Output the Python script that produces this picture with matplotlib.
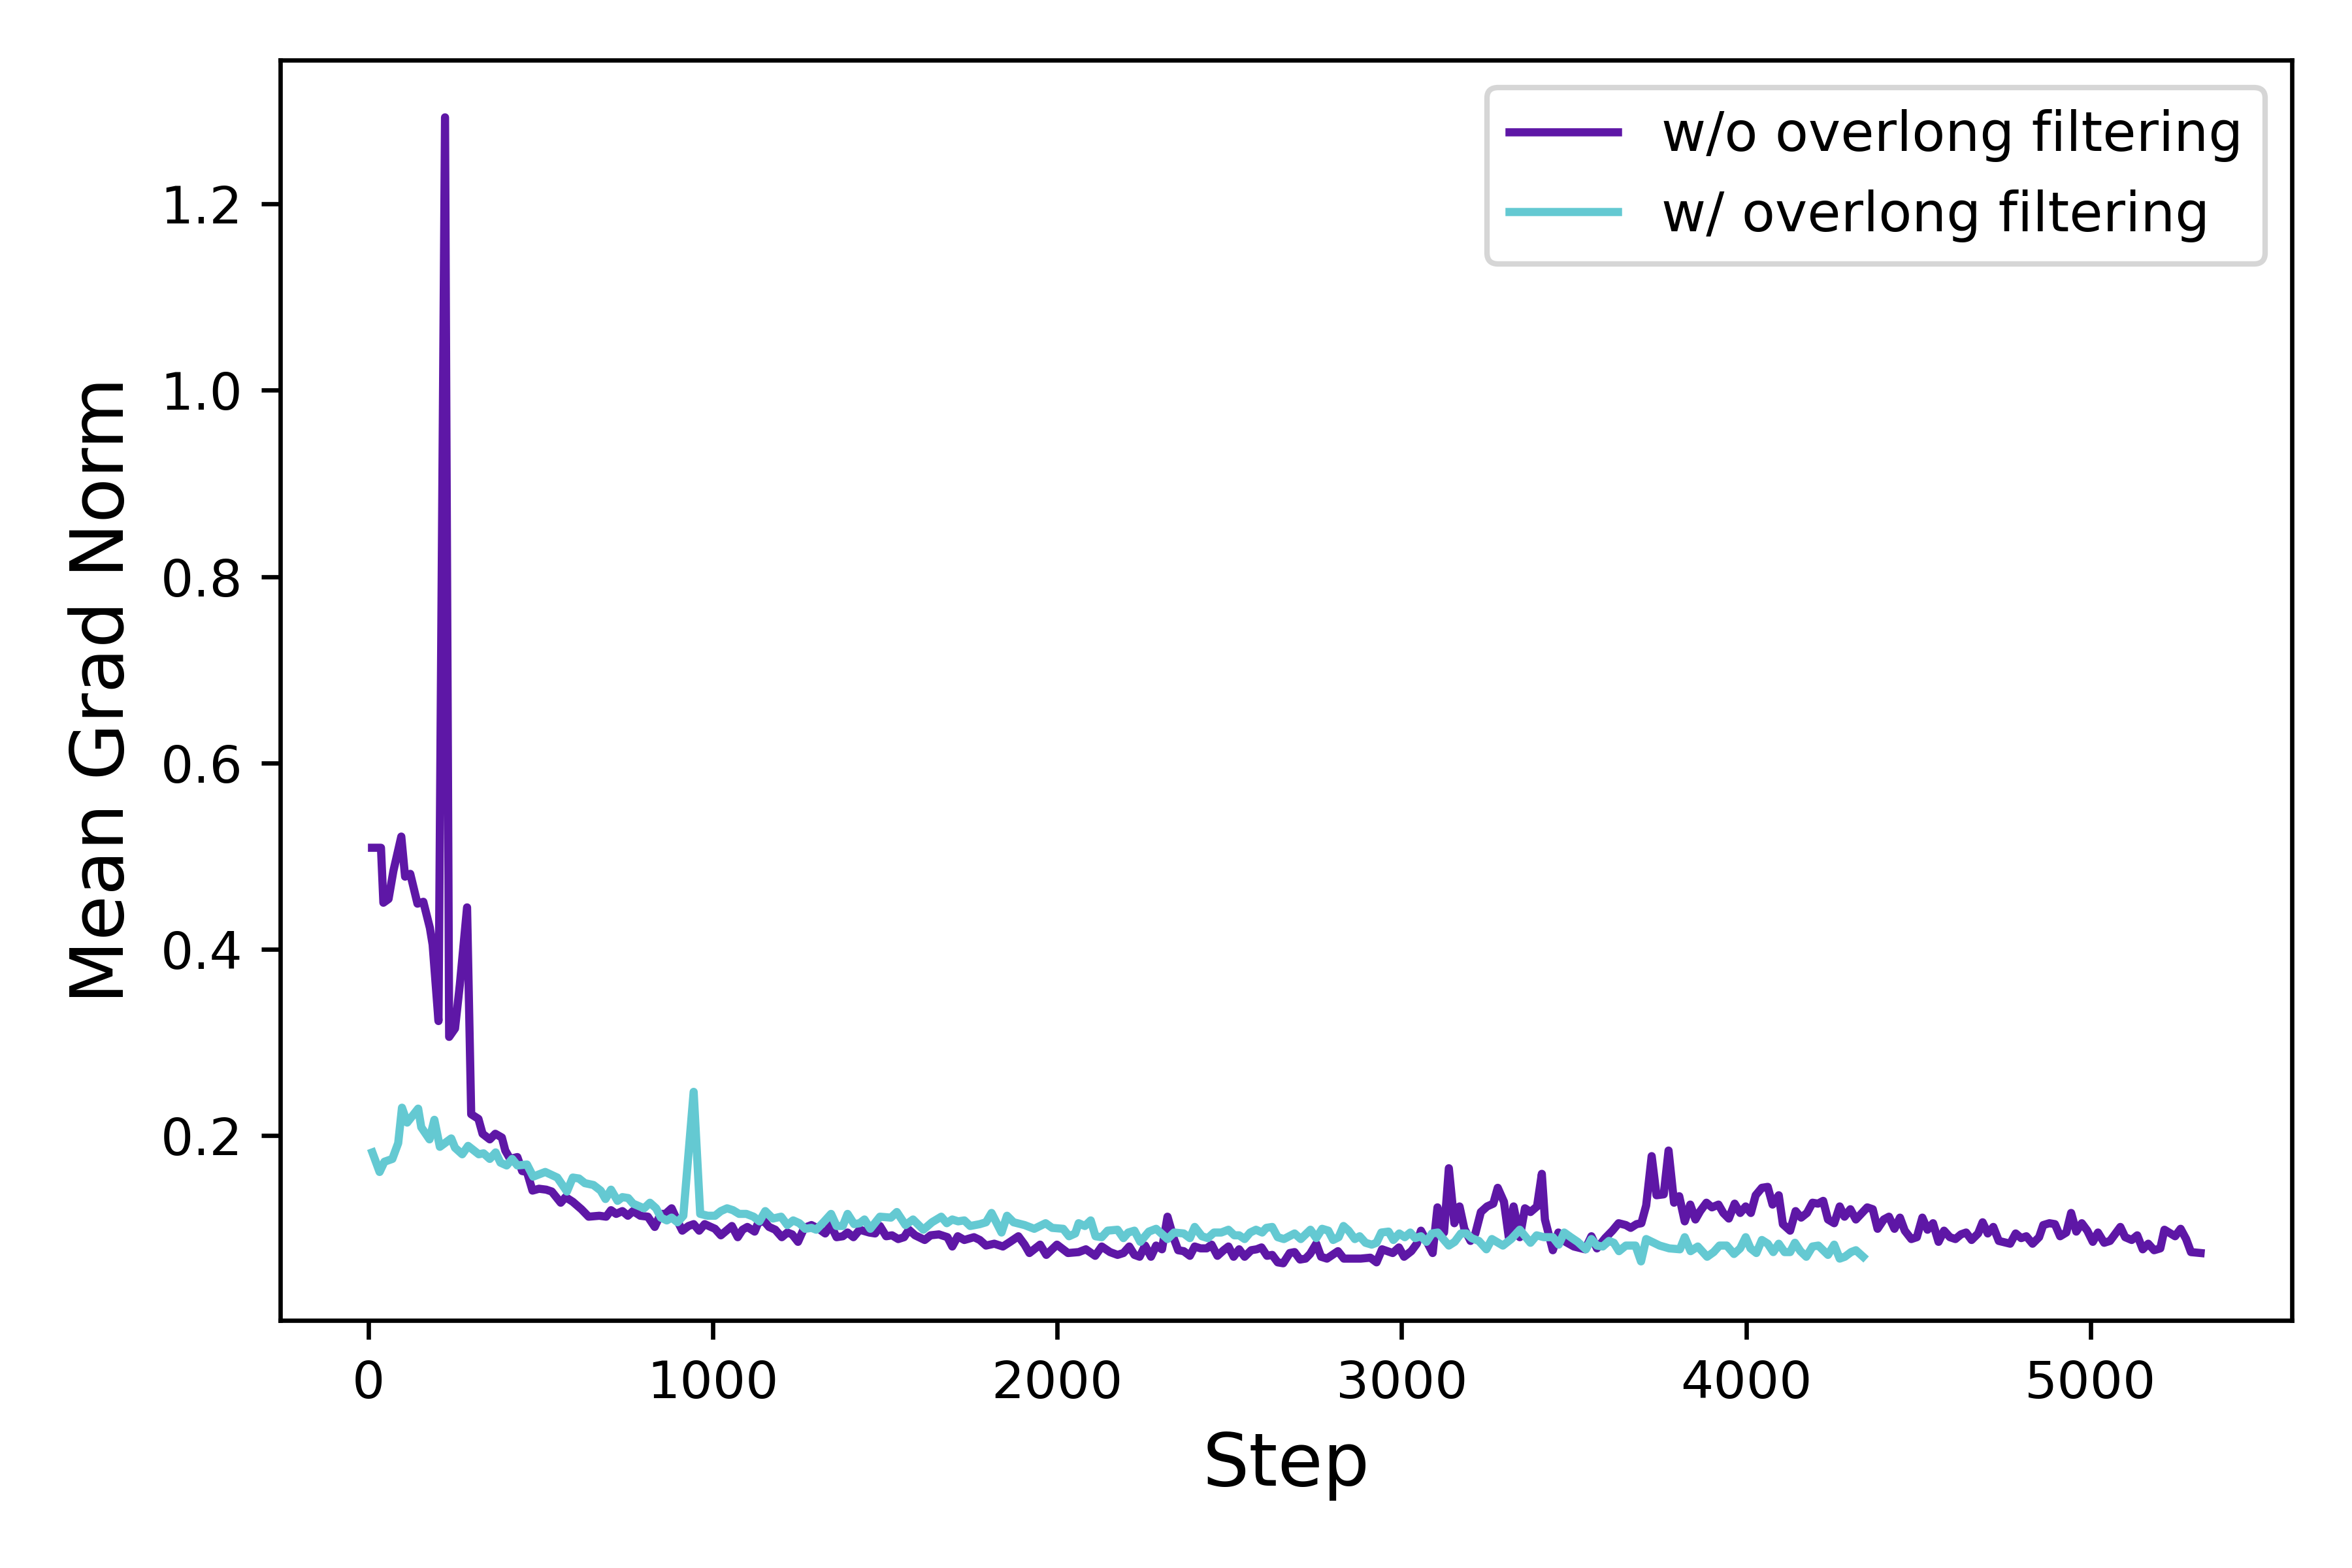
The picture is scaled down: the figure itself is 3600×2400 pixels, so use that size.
import matplotlib
matplotlib.use("Agg")
import matplotlib.pyplot as plt

# w/o overlong filtering
steps_wo = [10, 36, 43, 58, 72, 95, 106, 121, 142, 159, 178, 186, 203, 222, 234, 251, 265, 286, 298,
            319, 331, 352, 368, 387, 397, 411, 432, 446, 460, 476, 495, 516, 532, 558, 572, 593, 618,
            639, 670, 690, 704, 719, 737, 753, 768, 789, 811, 831, 848, 862, 880, 895, 911, 929, 944,
            960, 976, 1006, 1023, 1055, 1072, 1086,
            1100, 1121, 1132, 1149, 1163, 1181, 1200, 1216, 1230, 1247, 1265, 1286, 1307, 1326, 1342,
            1359, 1377, 1391, 1408, 1426, 1454, 1471, 1485, 1503, 1520, 1538, 1555, 1569, 1587, 1615,
            1632, 1656, 1681, 1695, 1711, 1730, 1758, 1775, 1793, 1817, 1842, 1863, 1887, 1905, 1919,
            1950, 1968, 1999, 2031, 2062, 2083, 2110, 2129, 2153,
            2175, 2192, 2209, 2224, 2239, 2255, 2272, 2287, 2304, 2320, 2337, 2351, 2367, 2385, 2399,
            2416, 2434, 2448, 2465, 2483, 2497, 2512, 2528, 2544, 2563, 2579, 2593, 2609, 2624, 2640,
            2656, 2675, 2689, 2705, 2721, 2734, 2752, 2766, 2783, 2815, 2832, 2860, 2881, 2909, 2927,
            2943, 2974, 2992, 3007, 3028, 3044, 3056, 3072, 3090, 3104, 3123, 3137, 3153, 3168, 3182,
            3200, 3214, 3230, 3248, 3266, 3279, 3297, 3311, 3325, 3343, 3358, 3374, 3393, 3407, 3416,
            3439, 3455, 3476, 3500, 3533, 3551, 3567, 3591, 3612, 3630, 3651, 3665, 3682, 3696, 3710,
            3726, 3740, 3761, 3775, 3791, 3806, 3822, 3838, 3853, 3867, 3885, 3901, 3920, 3934, 3950,
            3967, 3983, 3999, 4014, 4028, 4046, 4063, 4077, 4095, 4107, 4128, 4144, 4160, 4177, 4193,
            4209, 4224, 4238, 4256, 4272, 4286, 4303, 4319, 4352, 4368, 4382, 4400, 4415, 4431, 4447,
            4461, 4480, 4496, 4512, 4527, 4543, 4559, 4575, 4592, 4608, 4624, 4639, 4655, 4674, 4687,
            4702, 4718, 4734, 4767, 4783, 4799, 4814, 4832, 4851, 4863, 4881, 4897, 4912, 4930, 4944,
            4959, 4975, 4991, 5007, 5022, 5040, 5057, 5071, 5087, 5101, 5120, 5136, 5152, 5168, 5185,
            5203, 5215, 5246, 5262, 5278, 5292, 5320]
norm_wo = [0.509, 0.509, 0.450, 0.454, 0.484, 0.521, 0.478, 0.481, 0.449, 0.451, 0.423, 0.405, 0.323,
           1.293, 0.306, 0.315, 0.362, 0.445, 0.223,
           0.218, 0.202, 0.196, 0.202, 0.198, 0.184, 0.175, 0.177, 0.162, 0.161, 0.141, 0.143, 0.142,
           0.140, 0.128, 0.134, 0.129, 0.121, 0.113, 0.114, 0.113, 0.120, 0.116, 0.119, 0.114, 0.119,
           0.114, 0.113, 0.102, 0.116, 0.116, 0.122, 0.110, 0.098, 0.103, 0.105, 0.098, 0.105, 0.100,
           0.093, 0.103, 0.091, 0.099,
           0.102, 0.097, 0.107, 0.108, 0.102, 0.099, 0.091, 0.096, 0.094, 0.086, 0.101, 0.104, 0.100,
           0.095, 0.104, 0.091, 0.092, 0.096, 0.091, 0.099, 0.096, 0.095, 0.103, 0.092, 0.093, 0.089,
           0.091, 0.099, 0.093, 0.088, 0.093, 0.094, 0.091, 0.081, 0.092, 0.088, 0.091, 0.088, 0.082,
           0.084, 0.081, 0.086, 0.092, 0.083, 0.074, 0.083, 0.072, 0.083, 0.074, 0.075, 0.078, 0.071,
           0.081, 0.075,
           0.072, 0.074, 0.081, 0.072, 0.070, 0.082, 0.070, 0.082, 0.078, 0.113, 0.091, 0.077, 0.076,
           0.071, 0.081, 0.079, 0.079, 0.083, 0.071, 0.077, 0.081, 0.070, 0.078, 0.070, 0.077, 0.078,
           0.080, 0.071, 0.072, 0.064, 0.063, 0.074, 0.075, 0.067, 0.068, 0.073, 0.084, 0.070, 0.068,
           0.076, 0.068, 0.068, 0.068, 0.069, 0.064, 0.078, 0.074, 0.080, 0.070, 0.076, 0.084, 0.098,
           0.087, 0.074, 0.123, 0.096, 0.165, 0.106, 0.124, 0.100, 0.087, 0.095, 0.118, 0.124, 0.127,
           0.144, 0.129, 0.091, 0.124, 0.091, 0.122, 0.118, 0.124, 0.159, 0.110, 0.077, 0.096, 0.086,
           0.081, 0.078, 0.092, 0.079, 0.090, 0.098, 0.106, 0.104, 0.101, 0.105, 0.106, 0.125, 0.178,
           0.136, 0.137, 0.184, 0.128, 0.135, 0.108, 0.126, 0.110, 0.119, 0.128, 0.123, 0.126, 0.117,
           0.111, 0.127, 0.117, 0.124, 0.117, 0.136, 0.144, 0.145, 0.126, 0.136, 0.105, 0.098, 0.119,
           0.112, 0.117, 0.128, 0.127, 0.130, 0.110, 0.106, 0.124, 0.113, 0.121, 0.110, 0.123, 0.121,
           0.100, 0.110, 0.113, 0.100, 0.112, 0.098, 0.089, 0.091, 0.112, 0.099, 0.106, 0.086, 0.098,
           0.091, 0.089, 0.094, 0.096, 0.088, 0.095, 0.107, 0.095, 0.102, 0.087, 0.084, 0.095, 0.090,
           0.092, 0.084, 0.091, 0.104, 0.106, 0.105, 0.092, 0.096, 0.117, 0.097, 0.106, 0.098, 0.086,
           0.096, 0.085, 0.087, 0.094, 0.102, 0.091, 0.088, 0.093, 0.078, 0.084, 0.077, 0.079, 0.099,
           0.092, 0.100, 0.089, 0.075, 0.074]

# w/ overlong filtering
steps_w = [11, 32, 46, 69, 86, 97, 112, 144, 153, 177, 191, 207, 240, 251, 272, 289, 320, 334, 352,
           369, 383, 401, 417, 432, 460, 478, 513, 548, 576, 593, 611, 628, 653, 674, 688, 704, 723,
           737, 754, 768, 800, 817, 835, 849, 866, 880, 897, 914, 944, 963, 985, 1006, 1023, 1041,
           1058, 1076, 1097, 1118, 1135, 1152, 1174, 1198, 1216, 1233, 1251, 1268, 1286, 1300, 1321,
           1343, 1359, 1377, 1391, 1410, 1426, 1440, 1457, 1485, 1517, 1534, 1559, 1581, 1611, 1636,
           1663, 1679, 1695, 1712, 1730, 1747, 1775, 1793, 1809, 1838, 1854, 1873, 1905, 1933, 1966,
           1985, 2017, 2034, 2052, 2062, 2080, 2097, 2111, 2129, 2146, 2175, 2192, 2206, 2224, 2241,
           2266, 2287, 2320, 2339, 2367, 2385, 2399, 2420, 2437, 2455, 2476, 2497, 2514, 2528, 2544,
           2560, 2577, 2595, 2607, 2624, 2640, 2658, 2689, 2707, 2735, 2752, 2769, 2787, 2801, 2817,
           2831, 2846, 2864, 2878, 2895, 2913, 2927, 2941, 2962, 2976, 2993, 3009, 3025, 3039, 3056,
           3072, 3088, 3105, 3123, 3137, 3154, 3172, 3188, 3203, 3224, 3246, 3262, 3294, 3318, 3343,
           3374, 3392, 3413, 3439, 3456, 3472, 3491, 3511, 3535, 3551, 3567, 3584, 3602, 3616, 3631,
           3651, 3679, 3695, 3710, 3749, 3777, 3808, 3822, 3839, 3860, 3887, 3906, 3923, 3944, 3965,
           3983, 3999, 4013, 4030, 4046, 4063, 4079, 4095, 4112, 4128, 4142, 4158, 4175, 4193, 4210,
           4238, 4256, 4272, 4287, 4305, 4319, 4340]
norm_w = [0.182, 0.161, 0.172, 0.175, 0.192, 0.230, 0.214, 0.229, 0.209, 0.196, 0.217, 0.188, 0.197,
          0.187, 0.180, 0.189, 0.180, 0.181, 0.175, 0.182, 0.171, 0.168, 0.175, 0.168, 0.169, 0.156,
          0.161, 0.155, 0.140, 0.155, 0.154, 0.149, 0.147, 0.141, 0.132, 0.142, 0.130, 0.134, 0.133,
          0.127, 0.122, 0.128, 0.122, 0.112, 0.109, 0.112, 0.107, 0.114, 0.247, 0.116, 0.114, 0.114,
          0.119, 0.122, 0.120, 0.116, 0.116, 0.113, 0.108, 0.119, 0.111, 0.113, 0.104, 0.109, 0.106,
          0.100, 0.101, 0.099, 0.107, 0.116, 0.103, 0.103, 0.116, 0.105, 0.106, 0.110, 0.100, 0.113,
          0.112, 0.118, 0.104, 0.110, 0.099, 0.107, 0.113, 0.106, 0.110, 0.108, 0.109, 0.103, 0.105,
          0.107, 0.117, 0.096, 0.114, 0.107, 0.104, 0.100, 0.106, 0.101, 0.100, 0.092, 0.095, 0.106,
          0.103, 0.109, 0.092, 0.091, 0.098, 0.099, 0.090, 0.096, 0.098, 0.086, 0.097, 0.100, 0.089,
          0.096, 0.095, 0.090, 0.102, 0.092, 0.090, 0.096, 0.096, 0.099, 0.093, 0.093, 0.089, 0.096,
          0.099, 0.096, 0.101, 0.102, 0.091, 0.089, 0.095, 0.089, 0.099, 0.090, 0.100, 0.098, 0.088,
          0.091, 0.103, 0.098, 0.089, 0.092, 0.085, 0.083, 0.085, 0.096, 0.097, 0.088, 0.095, 0.091,
          0.096, 0.090, 0.092, 0.086, 0.095, 0.096, 0.088, 0.082, 0.086, 0.095, 0.095, 0.090, 0.087,
          0.078, 0.089, 0.082, 0.089, 0.099, 0.085, 0.093, 0.091, 0.091, 0.083, 0.096, 0.091, 0.086,
          0.078, 0.089, 0.082, 0.081, 0.087, 0.085, 0.076, 0.082, 0.082, 0.065, 0.089, 0.082, 0.079,
          0.078, 0.091, 0.076, 0.081, 0.070, 0.075, 0.082, 0.082, 0.073, 0.079, 0.091, 0.079, 0.074,
          0.088, 0.084, 0.075, 0.084, 0.075, 0.075, 0.085, 0.076, 0.070, 0.081, 0.082, 0.072, 0.083,
          0.068, 0.070, 0.075, 0.077, 0.070]

purple = "#5e17a6"
cyan = "#64c9d2"

fig = plt.figure(figsize=(6, 4), dpi=600)
ax = fig.add_axes([0.1193, 0.1578, 0.8552, 0.8039])

ax.plot(steps_wo, norm_wo, color=purple, linewidth=1.5, label="w/o overlong filtering")
ax.plot(steps_w, norm_w, color=cyan, linewidth=1.5, label="w/ overlong filtering")

ax.set_xlabel("Step", fontsize=13.5)
ax.set_ylabel("Mean Grad Norm", fontsize=13.5)
ax.tick_params(labelsize=9.5)
ax.set_yticks([0.2, 0.4, 0.6, 0.8, 1.0, 1.2])
ax.legend(loc="upper right", fontsize=10)

fig.savefig("out.png", dpi=600)
